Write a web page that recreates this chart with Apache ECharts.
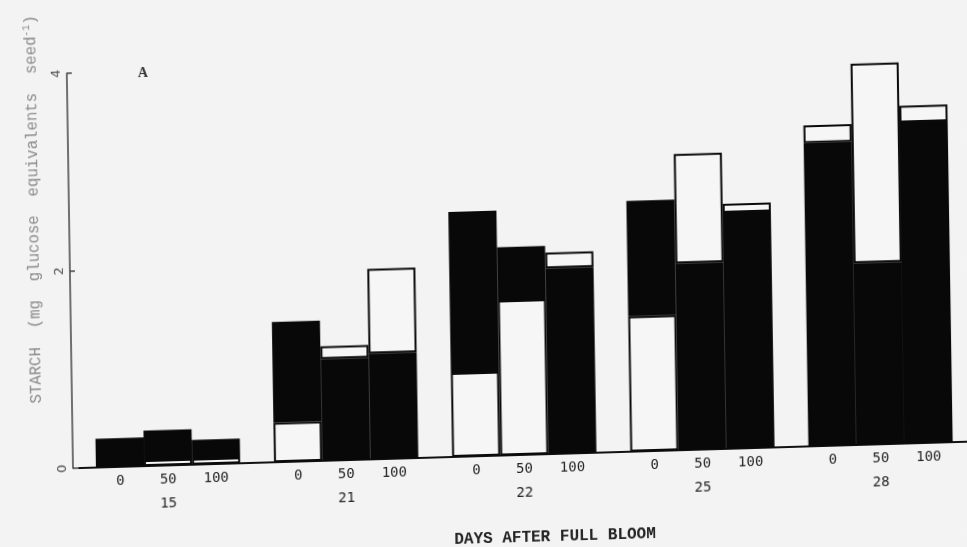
<!DOCTYPE html>
<html>
<head>
<meta charset="utf-8">
<script src="https://cdn.jsdelivr.net/npm/echarts@6/dist/echarts.min.js"></script>
<style>
  html, body { margin: 0; padding: 0; background: #f3f3f3; overflow: hidden; }
  /* the printed figure sits slightly askew on the page */
  #chart { width: 967px; height: 547px; transform: rotate(-0.9deg) skewY(-0.8deg); transform-origin: 50% 50%; }
</style>
</head>
<body>
<div id="chart"></div>
<script>
// Days after full bloom (groups) and treatment levels (bars within a group)
const days = ['15', '21', '22', '25', '28'];
const treatments = ['0', '50', '100'];
const yTicks = [0, 2, 4];

// Starch, mg glucose equivalents per seed. Each bar is built from the base up:
// an open segment below, a solid segment, and an open segment on top.
const lower0 = [0, 0.40, 0.85, 1.37, 0];
const solid0 = [0.29, 1.02, 1.63, 1.17, 3.07];
const upper0 = [0, 0, 0, 0, 0.18];

const lower50 = [0.06, 0, 1.57, 0, 0];
const solid50 = [0.30, 1.03, 0.54, 1.89, 1.84];
const upper50 = [0, 0.13, 0, 1.11, 2.02];

const lower100 = [0.06, 0, 0, 0, 0];
const solid100 = [0.19, 1.07, 1.88, 2.39, 3.25];
const upper100 = [0, 0.86, 0.16, 0.09, 0.17];

const bars = [
  { lower: lower0, solid: solid0, upper: upper0 },
  { lower: lower50, solid: solid50, upper: upper50 },
  { lower: lower100, solid: solid100, upper: upper100 }
];

const openStyle = { color: '#f6f6f6', borderColor: '#0a0a0a', borderWidth: 2 };
const solidStyle = { color: '#080808', borderWidth: 0 };
const skipZero = v => (v === 0 ? '-' : v);

const series = [];
bars.forEach((b, i) => {
  const common = { type: 'bar', stack: 'treat' + i, barGap: '0%', barCategoryGap: '19%', animation: false, silent: true };
  series.push(Object.assign({}, common, { data: b.lower.map(skipZero), itemStyle: openStyle }));
  series.push(Object.assign({}, common, { data: b.solid.map(skipZero), itemStyle: solidStyle }));
  series.push(Object.assign({}, common, { data: b.upper.map(skipZero), itemStyle: openStyle }));
});

const mono = 'DejaVu Sans Mono';
const option = {
  backgroundColor: '#f3f3f3',
  animation: false,
  grid: { left: 76, top: 61, width: 900, height: 395 },
  xAxis: {
    type: 'category',
    data: days,
    axisLine: { show: true, lineStyle: { color: '#111', width: 2 } },
    axisTick: { show: false },
    axisLabel: {
      interval: 0,
      margin: 6,
      formatter: d => treatments.map(t => '{t|' + t + '}').join('') + '\n{d|' + d + '}',
      rich: {
        t: { width: 48, align: 'center', fontFamily: mono, fontSize: 14, lineHeight: 16, color: '#262626' },
        d: { align: 'center', fontFamily: mono, fontSize: 14, lineHeight: 32, color: '#262626' }
      }
    }
  },
  yAxis: {
    type: 'value',
    min: yTicks[0],
    max: yTicks[yTicks.length - 1],
    interval: yTicks[1] - yTicks[0],
    offset: 6,
    axisLine: { show: true, lineStyle: { color: '#444', width: 1.5 } },
    axisTick: { show: true, inside: true, length: 5, lineStyle: { color: '#444', width: 1.5 } },
    splitLine: { show: false },
    axisLabel: { rotate: 90, margin: 4, color: '#555', fontSize: 13, fontFamily: 'DejaVu Sans' }
  },
  graphic: [
    {
      type: 'text', x: 35, y: 196, rotation: Math.PI / 2,
      style: {
        text: 'STARCH  (mg  glucose  equivalents  seed{s|-1})',
        fontFamily: 'Liberation Mono', fontSize: 15.7, fill: '#8a8a8a',
        align: 'center', verticalAlign: 'middle', lineHeight: 19,
        rich: { s: { fontFamily: 'Liberation Mono', fontSize: 10, verticalAlign: 'top', lineHeight: 19, fill: '#8a8a8a' } }
      }
    },
    {
      type: 'text', x: 146, y: 63,
      style: { text: 'A', fontFamily: 'Liberation Serif', fontWeight: 'bold', fontSize: 14, fill: '#333', align: 'center', verticalAlign: 'middle' }
    },
    {
      type: 'text', x: 551, y: 539,
      style: { text: 'DAYS AFTER FULL BLOOM', fontFamily: 'Liberation Mono', fontWeight: 'bold', fontSize: 16, fill: '#222', align: 'center', verticalAlign: 'middle' }
    }
  ],
  series: series
};

const chart = echarts.init(document.getElementById('chart'), null, { renderer: 'canvas' });
chart.setOption(option);
</script>
</body>
</html>
